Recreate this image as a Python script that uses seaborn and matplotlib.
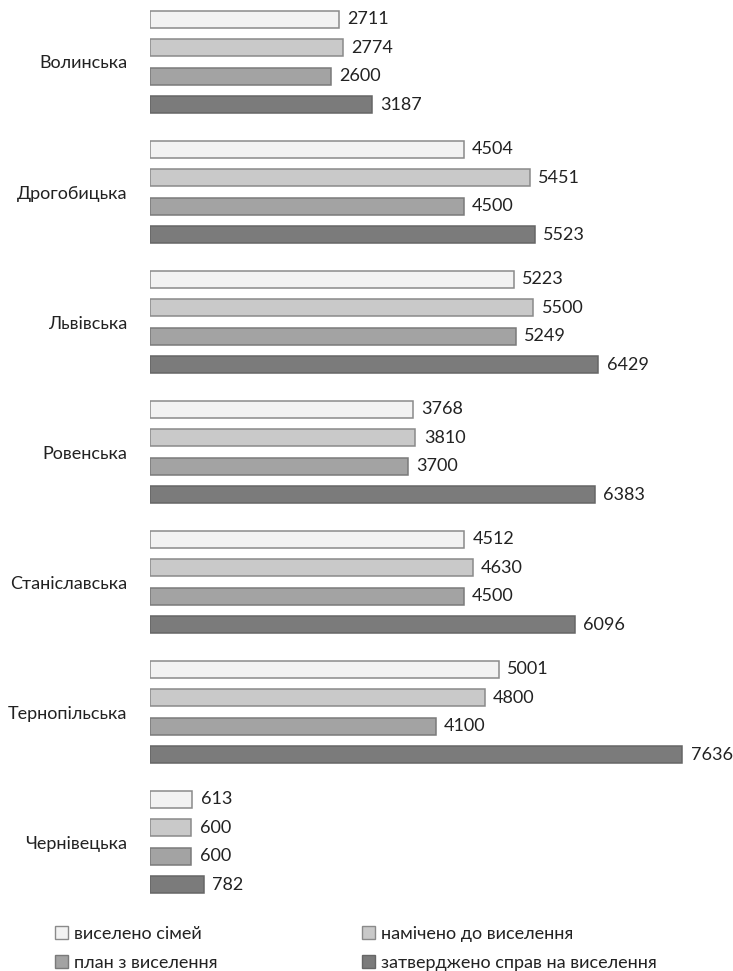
import pandas as pd
import matplotlib
matplotlib.use("Agg")
import matplotlib.pyplot as plt
import seaborn as sns

# Дані
regions = ["Волинська", "Дрогобицька", "Львівська", "Ровенська",
           "Станіславська", "Тернопільська", "Чернівецька"]
series = ["виселено сімей", "намічено до виселення",
          "план з виселення", "затверджено справ на виселення"]
vyseleno = [2711, 4504, 5223, 3768, 4512, 5001, 613]
namicheno = [2774, 5451, 5500, 3810, 4630, 4800, 600]
plan = [2600, 4500, 5249, 3700, 4500, 4100, 600]
zatverdzheno = [3187, 5523, 6429, 6383, 6096, 7636, 782]

fills = ["#f2f2f2", "#c9c9c9", "#a3a3a3", "#7b7b7b"]
edges = ["#8a8a8a", "#8a8a8a", "#7a7a7a", "#666666"]

df = pd.DataFrame({
    "region": regions * 4,
    "series": [s for s in series for _ in regions],
    "value": vyseleno + namicheno + plan + zatverdzheno,
})

sns.set_style("white")
plt.rcParams["font.family"] = ["Lato", "DejaVu Sans"]
FS = 13

W, H = 733, 971
fig = plt.figure(figsize=(W / 100, H / 100), dpi=100)
x0, top_px, bot_px = 149.5, 3.5, 900.5
ax = fig.add_axes([x0 / W, 1 - bot_px / H, 1 - x0 / W, (bot_px - top_px) / H])

sns.barplot(data=df, y="region", x="value", hue="series", orient="h",
            order=regions, hue_order=series, palette=fills,
            width=0.877, gap=0.4, linewidth=1.1, ax=ax)

for cont, ec in zip(ax.containers, edges):
    for bar in cont:
        bar.set_edgecolor(ec)
    ax.bar_label(cont, fmt="%d", padding=6, fontsize=FS, color="#222222")

ax.set_xlim(0, (W - x0) / 0.0698)
ax.set_ylim(6.45, -0.45)
ax.set_xlabel("")
ax.set_ylabel("")
ax.set_xticks([])
ax.tick_params(axis="y", length=0, pad=16, labelsize=FS, labelcolor="#222222")
for sp in ax.spines.values():
    sp.set_visible(False)

# Легенда знизу у два стовпці
handles, labels = ax.get_legend_handles_labels()
ax.get_legend().remove()
for h, ec in zip(handles, edges):
    h.set_edgecolor(ec)
    h.set_linewidth(1.0)
idx = [0, 2, 1, 3]
leg = fig.legend([handles[i] for i in idx], [labels[i] for i in idx],
                 ncol=2, loc="upper left", bbox_to_anchor=(55 / W, 1 - 926 / H),
                 frameon=False, fontsize=FS, handlelength=0.7, handleheight=0.7,
                 handletextpad=0.35, labelspacing=0.7, columnspacing=8.0,
                 borderaxespad=0, borderpad=0)
for t in leg.get_texts():
    t.set_color("#222222")

fig.savefig("out.png", dpi=100)
